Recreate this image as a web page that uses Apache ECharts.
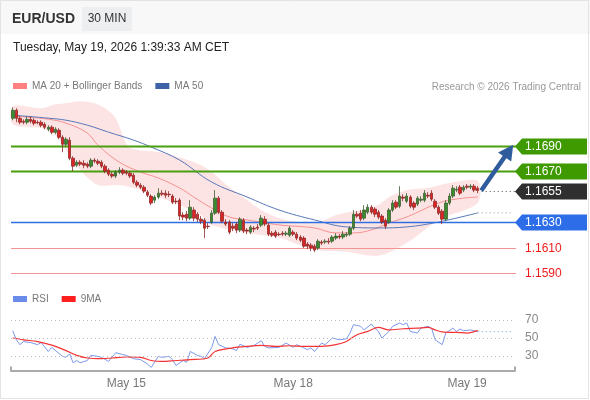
<!DOCTYPE html>
<html>
<head>
<meta charset="utf-8">
<script src="https://cdn.jsdelivr.net/npm/echarts@6.0.0/dist/echarts.min.js"></script>
<style>
  html, body { margin: 0; padding: 0; background: #fff; }
  #chart { width: 590px; height: 400px; }
</style>
</head>
<body>
<div id="chart"></div>
<script>
// 30 min slots, index 0 = May 14 08:00
const slotCount = 142;
const lastIndex = 131;
const dayTicks = [32, 79, 128];
const dayNames = ['May 15', 'May 18', 'May 19'];

// [open, close, low, high]
const candles = [
  [1.17117, 1.17180, 1.17101, 1.17203], [1.17180, 1.17117, 1.17086, 1.17196], [1.17117, 1.17086, 1.17070, 1.17133],
  [1.17094, 1.17086, 1.17070, 1.17109], [1.17086, 1.17109, 1.17070, 1.17133], [1.17109, 1.17094, 1.17078, 1.17133],
  [1.17101, 1.17078, 1.17062, 1.17117], [1.17086, 1.17082, 1.17070, 1.17101], [1.17086, 1.17062, 1.17047, 1.17101],
  [1.17070, 1.17047, 1.17031, 1.17086], [1.17031, 1.17047, 1.17015, 1.17062], [1.17047, 1.17007, 1.16992, 1.17062],
  [1.17007, 1.17031, 1.16992, 1.17047], [1.17023, 1.16968, 1.16953, 1.17039], [1.16968, 1.16913, 1.16851, 1.16984],
  [1.16913, 1.16953, 1.16898, 1.16968], [1.16945, 1.16804, 1.16788, 1.16968], [1.16804, 1.16741, 1.16702, 1.16819],
  [1.16749, 1.16772, 1.16733, 1.16788], [1.16772, 1.16757, 1.16741, 1.16788], [1.16764, 1.16749, 1.16725, 1.16788],
  [1.16757, 1.16741, 1.16725, 1.16772], [1.16741, 1.16788, 1.16725, 1.16804], [1.16788, 1.16780, 1.16764, 1.16804],
  [1.16780, 1.16764, 1.16749, 1.16796], [1.16772, 1.16741, 1.16725, 1.16788], [1.16741, 1.16702, 1.16686, 1.16757],
  [1.16710, 1.16678, 1.16663, 1.16725], [1.16678, 1.16663, 1.16647, 1.16694], [1.16663, 1.16694, 1.16647, 1.16710],
  [1.16694, 1.16710, 1.16678, 1.16733], [1.16710, 1.16686, 1.16670, 1.16725], [1.16694, 1.16686, 1.16670, 1.16710],
  [1.16686, 1.16663, 1.16647, 1.16702], [1.16670, 1.16615, 1.16600, 1.16686], [1.16615, 1.16592, 1.16576, 1.16631],
  [1.16592, 1.16576, 1.16560, 1.16608], [1.16576, 1.16545, 1.16529, 1.16592], [1.16537, 1.16513, 1.16498, 1.16553],
  [1.16506, 1.16451, 1.16435, 1.16521], [1.16474, 1.16498, 1.16451, 1.16513], [1.16498, 1.16529, 1.16482, 1.16568],
  [1.16529, 1.16521, 1.16506, 1.16553], [1.16529, 1.16513, 1.16490, 1.16553], [1.16521, 1.16517, 1.16498, 1.16545],
  [1.16506, 1.16458, 1.16443, 1.16521], [1.16466, 1.16462, 1.16443, 1.16490], [1.16474, 1.16349, 1.16317, 1.16490],
  [1.16357, 1.16341, 1.16317, 1.16380], [1.16364, 1.16333, 1.16309, 1.16388], [1.16333, 1.16419, 1.16317, 1.16474],
  [1.16396, 1.16333, 1.16309, 1.16419], [1.16364, 1.16325, 1.16302, 1.16380], [1.16325, 1.16309, 1.16286, 1.16349],
  [1.16317, 1.16254, 1.16176, 1.16333], [1.16270, 1.16266, 1.16247, 1.16294], [1.16302, 1.16372, 1.16286, 1.16396],
  [1.16372, 1.16490, 1.16357, 1.16553], [1.16490, 1.16380, 1.16364, 1.16506], [1.16380, 1.16309, 1.16294, 1.16396],
  [1.16302, 1.16286, 1.16270, 1.16325], [1.16302, 1.16223, 1.16207, 1.16317], [1.16270, 1.16254, 1.16231, 1.16294],
  [1.16286, 1.16239, 1.16215, 1.16302], [1.16239, 1.16325, 1.16223, 1.16341], [1.16317, 1.16231, 1.16215, 1.16333],
  [1.16239, 1.16231, 1.16207, 1.16254], [1.16223, 1.16262, 1.16207, 1.16278], [1.16254, 1.16247, 1.16223, 1.16270],
  [1.16262, 1.16254, 1.16239, 1.16286], [1.16278, 1.16333, 1.16262, 1.16357], [1.16325, 1.16286, 1.16270, 1.16349],
  [1.16278, 1.16207, 1.16192, 1.16294], [1.16215, 1.16199, 1.16184, 1.16231], [1.16223, 1.16192, 1.16176, 1.16239],
  [1.16207, 1.16203, 1.16192, 1.16223], [1.16215, 1.16207, 1.16192, 1.16231], [1.16207, 1.16215, 1.16192, 1.16231],
  [1.16199, 1.16254, 1.16184, 1.16270], [1.16223, 1.16207, 1.16192, 1.16239], [1.16207, 1.16176, 1.16160, 1.16223],
  [1.16184, 1.16160, 1.16145, 1.16199], [1.16176, 1.16113, 1.16098, 1.16192], [1.16129, 1.16113, 1.16090, 1.16145],
  [1.16121, 1.16098, 1.16074, 1.16137], [1.16113, 1.16082, 1.16066, 1.16129], [1.16098, 1.16152, 1.16082, 1.16168],
  [1.16145, 1.16137, 1.16121, 1.16160], [1.16145, 1.16152, 1.16129, 1.16168], [1.16152, 1.16145, 1.16129, 1.16176],
  [1.16152, 1.16184, 1.16137, 1.16199], [1.16176, 1.16192, 1.16160, 1.16215], [1.16192, 1.16184, 1.16168, 1.16207],
  [1.16184, 1.16207, 1.16168, 1.16231], [1.16199, 1.16207, 1.16184, 1.16223], [1.16207, 1.16254, 1.16192, 1.16270],
  [1.16254, 1.16364, 1.16239, 1.16396], [1.16364, 1.16349, 1.16333, 1.16388], [1.16372, 1.16325, 1.16309, 1.16396],
  [1.16333, 1.16396, 1.16317, 1.16435], [1.16380, 1.16419, 1.16364, 1.16443], [1.16419, 1.16380, 1.16364, 1.16435],
  [1.16404, 1.16364, 1.16341, 1.16419], [1.16380, 1.16341, 1.16325, 1.16396], [1.16349, 1.16302, 1.16286, 1.16364],
  [1.16317, 1.16270, 1.16247, 1.16333], [1.16302, 1.16396, 1.16286, 1.16411], [1.16396, 1.16451, 1.16380, 1.16474],
  [1.16458, 1.16419, 1.16404, 1.16474], [1.16427, 1.16506, 1.16411, 1.16584], [1.16498, 1.16490, 1.16466, 1.16521],
  [1.16466, 1.16506, 1.16451, 1.16529], [1.16498, 1.16427, 1.16411, 1.16513], [1.16451, 1.16419, 1.16396, 1.16466],
  [1.16443, 1.16490, 1.16427, 1.16506], [1.16474, 1.16482, 1.16458, 1.16506], [1.16474, 1.16529, 1.16458, 1.16553],
  [1.16513, 1.16506, 1.16490, 1.16537], [1.16529, 1.16482, 1.16466, 1.16553], [1.16466, 1.16419, 1.16404, 1.16482],
  [1.16419, 1.16372, 1.16357, 1.16435], [1.16388, 1.16325, 1.16286, 1.16404], [1.16325, 1.16451, 1.16309, 1.16474],
  [1.16451, 1.16506, 1.16435, 1.16529], [1.16506, 1.16568, 1.16490, 1.16592], [1.16553, 1.16560, 1.16537, 1.16584],
  [1.16576, 1.16529, 1.16513, 1.16592], [1.16553, 1.16576, 1.16537, 1.16592], [1.16584, 1.16576, 1.16560, 1.16600],
  [1.16576, 1.16584, 1.16560, 1.16600], [1.16584, 1.16553, 1.16537, 1.16600], [1.16568, 1.16550, 1.16529, 1.16584]
];

// [slot, price]
const ma20 = [[0, 1.17134], [4, 1.17126], [10, 1.17110], [15, 1.17079], [21, 1.17001], [24, 1.16906], [30, 1.16773],
  [36, 1.16695], [41, 1.16648], [47, 1.16570], [51, 1.16499], [56, 1.16413], [61, 1.16342], [66, 1.16319],
  [75, 1.16280], [85, 1.16256], [91, 1.16217], [96, 1.16217], [101, 1.16240], [106, 1.16295], [111, 1.16342],
  [120, 1.16452], [125, 1.16483], [131, 1.16499]];
const ma50 = [[0, 1.17142], [10, 1.17118], [15, 1.17102], [21, 1.17063], [27, 1.17008], [34, 1.16946], [39, 1.16891],
  [47, 1.16789], [56, 1.16617], [66, 1.16499], [75, 1.16397], [85, 1.16319], [94, 1.16264], [103, 1.16256],
  [111, 1.16264], [120, 1.16303], [131, 1.16374]];
const bandUpper = [[0, 1.17212], [8, 1.17196], [12, 1.17228], [15, 1.17236], [19, 1.17251], [23, 1.17236], [26, 1.17196],
  [29, 1.17118], [31, 1.16985], [33, 1.16883], [41, 1.16852], [47, 1.16812], [53, 1.16750], [56, 1.16695],
  [61, 1.16577], [66, 1.16475], [70, 1.16397], [75, 1.16334], [80, 1.16303], [86, 1.16303], [92, 1.16365],
  [98, 1.16397], [103, 1.16436], [106, 1.16499], [111, 1.16554], [117, 1.16570], [123, 1.16609], [131, 1.16624]];
const bandLower = [[0, 1.17071], [8, 1.17040], [12, 1.16985], [15, 1.16867], [19, 1.16711], [24, 1.16593], [30, 1.16593],
  [36, 1.16554], [41, 1.16499], [47, 1.16436], [53, 1.16357], [56, 1.16279], [66, 1.16217], [75, 1.16178],
  [85, 1.16084], [94, 1.16068], [103, 1.16037], [111, 1.16138], [120, 1.16319], [131, 1.16452]];

const rsi = [[0, 58], [1, 48], [2, 42.6], [3, 46], [5, 45], [7, 42.6], [8, 45], [10, 35], [11, 39.6], [14, 29.6],
  [15, 28.5], [16, 32.5], [17, 22.5], [18, 25], [19, 22.5], [21, 25], [22, 30.7], [24, 29.6], [25, 28.5], [27, 24],
  [29, 33.7], [31, 31.5], [32, 30.7], [34, 27], [36, 26], [38, 21], [39, 17.3], [41, 29.6], [42, 28.5], [44, 29.6],
  [45, 26], [46, 19.6], [48, 25], [49, 23], [50, 35], [52, 30.7], [53, 29.6], [54, 27], [56, 39], [57, 51.8],
  [58, 42.6], [60, 39], [62, 38], [63, 36], [64, 43], [66, 39.6], [68, 41.8], [70, 47], [71, 40.7], [72, 39],
  [75, 39.6], [77, 44.4], [79, 39.6], [80, 42.6], [82, 39], [83, 37], [84, 39], [85, 35], [87, 44.4], [88, 42.6],
  [90, 50], [92, 48], [94, 49], [95, 55.5], [96, 64.8], [98, 63], [99, 59], [101, 65.5], [102, 61], [103, 57.3],
  [104, 50], [106, 57.3], [107, 63], [109, 66.7], [110, 64.8], [111, 66.7], [112, 57.3], [114, 55.5], [115, 61],
  [117, 63], [118, 61], [119, 48], [121, 42.6], [122, 55.5], [124, 61], [125, 57.3], [126, 60], [127, 58],
  [129, 59], [131, 57]];
const rsiMa = [[0, 50], [3, 48], [7, 46], [10, 43], [12, 40.7], [15, 36], [18, 30.7], [21, 27.8], [25, 27], [28, 27.8],
  [32, 28.9], [36, 28.5], [39, 25], [42, 24], [46, 25], [50, 26], [55, 27.8], [57, 35], [62, 39], [66, 40.7],
  [70, 41.8], [74, 40.7], [78, 41.4], [82, 40.7], [87, 40.7], [91, 42.6], [94, 46.2], [97, 53.7], [100, 57.3],
  [103, 61.8], [106, 59], [110, 60.3], [114, 61], [117, 61.8], [119, 59], [121, 56.7], [125, 56.2], [128, 55.5],
  [131, 58.4]];
const rsiLevels = [70, 50, 30];

const levelValues = [1.1690, 1.1670, 1.1655, 1.1630, 1.1610, 1.1590];
const levelKinds = ['resistance', 'resistance', 'last', 'pivot', 'support', 'support'];
const arrowFrom = [132, 1.1655];
const arrowTo = [141, 1.1691];

const categories = [];
for (let i = 0; i < slotCount; i++) categories.push(String(i));

const levelLook = {
  resistance: { line: '#4b9e0e', width: 2, tag: '#3f9a00', text: '#fff' },
  last: { line: '#555', width: 1, tag: '#2f2f2f', text: '#fff' },
  pivot: { line: '#2f6fe4', width: 1.5, tag: '#2d6ee8', text: '#fff' },
  support: { line: '#f39494', width: 1, tag: null, text: '#ee1c1c' },
};

function renderLevel(params, api) {
  const value = levelValues[params.dataIndex];
  const look = levelLook[levelKinds[params.dataIndex]];
  const cs = params.coordSys;
  const right = cs.x + cs.width;
  const y = Math.round(api.coord([0, value])[1]) + 0.5;
  const children = [];
  if (levelKinds[params.dataIndex] === 'last') {
    const x0 = api.coord([lastIndex, value])[0] + 4;
    children.push({ type: 'line', shape: { x1: x0, y1: y, x2: right, y2: y },
      style: { stroke: look.line, lineWidth: 1, lineDash: [1, 3] } });
  } else {
    children.push({ type: 'line', shape: { x1: cs.x, y1: y, x2: right + 1, y2: y },
      style: { stroke: look.line, lineWidth: look.width } });
  }
  if (look.tag) {
    children.push({ type: 'polygon',
      shape: { points: [[right, y], [right + 7, y - 8], [right + 72, y - 8], [right + 72, y + 8], [right + 7, y + 8]] },
      style: { fill: look.tag } });
  }
  children.push({ type: 'text', style: { text: value.toFixed(4), x: right + 10, y: y, fill: look.text,
    font: '12px Arial', verticalAlign: 'middle', textVerticalAlign: 'middle' } });
  return { type: 'group', children: children };
}

function renderBand(params, api) {
  const pts = bandUpper.map(p => api.coord(p));
  for (let k = bandLower.length - 1; k >= 0; k--) pts.push(api.coord(bandLower[k]));
  return { type: 'polygon', shape: { points: pts, smooth: 0.3 }, style: { fill: 'rgba(245,120,120,0.2)' } };
}

function renderArrow(params, api) {
  const p0 = api.coord(arrowFrom);
  const p1 = api.coord(arrowTo);
  const dx = p1[0] - p0[0], dy = p1[1] - p0[1];
  const len = Math.sqrt(dx * dx + dy * dy);
  const ux = dx / len, uy = dy / len;
  const head = 15, half = 8;
  const bx = p1[0] - ux * head, by = p1[1] - uy * head;
  return { type: 'group', children: [
    { type: 'line', shape: { x1: p0[0], y1: p0[1], x2: bx + ux * 2, y2: by + uy * 2 }, style: { stroke: '#2f5c9c', lineWidth: 4.5 } },
    { type: 'polygon', shape: { points: [[p1[0], p1[1]], [bx - uy * half, by + ux * half], [bx + uy * half, by - ux * half]] },
      style: { fill: '#2f5c9c' } },
  ] };
}

const chart = echarts.init(document.getElementById('chart'));
chart.setOption({
  animation: false,
  textStyle: { fontFamily: 'Arial, "Liberation Sans", sans-serif' },
  graphic: [
    { type: 'rect', shape: { x: 0, y: 0, width: 590, height: 34 }, style: { fill: '#f8f8f8' }, silent: true },
    { type: 'rect', shape: { x: 0.5, y: 0.5, width: 588, height: 398 }, style: { fill: 'none', stroke: '#e3e3e3', lineWidth: 1 }, silent: true },
    { type: 'text', x: 12, y: 19, style: { text: 'EUR/USD', font: 'bold 14px Arial', fill: '#333', verticalAlign: 'middle', textVerticalAlign: 'middle' } },
    { type: 'rect', shape: { x: 82, y: 7, width: 50, height: 24 }, style: { fill: '#eceef0' } },
    { type: 'text', x: 107, y: 19, style: { text: '30 MIN', font: '12px Arial', fill: '#333', align: 'center', textAlign: 'center', verticalAlign: 'middle', textVerticalAlign: 'middle' } },
    { type: 'text', x: 13, y: 48, style: { text: 'Tuesday, May 19, 2026 1:39:33 AM CET', font: '12px Arial', fill: '#222', verticalAlign: 'middle', textVerticalAlign: 'middle' } },
    { type: 'text', x: 581, y: 87, style: { text: 'Research \u00a9 2026 Trading Central', font: '10px Arial', fill: '#999', align: 'right', textAlign: 'right', verticalAlign: 'middle', textVerticalAlign: 'middle' } },
  ],
  legend: [
    { left: 13, top: 81, padding: 0, itemWidth: 14, itemHeight: 6, itemGap: 13, icon: 'rect', selectedMode: false,
      textStyle: { color: '#777', fontSize: 10 }, data: ['MA 20 + Bollinger Bands', 'MA 50'] },
    { left: 13, top: 294, padding: 0, itemWidth: 14, itemHeight: 6, itemGap: 13, icon: 'rect', selectedMode: false,
      textStyle: { color: '#777', fontSize: 10 }, data: ['RSI', '9MA'] },
  ],
  grid: [
    { left: 11, width: 504, top: 95, height: 191 },
    { left: 11, width: 504, top: 302, height: 68.4 },
  ],
  xAxis: [
    { type: 'category', gridIndex: 0, data: categories, boundaryGap: true, show: false },
    { type: 'category', gridIndex: 1, data: categories, boundaryGap: true,
      axisLine: { lineStyle: { color: '#aaa', width: 2 } },
      axisTick: { show: true, inside: true, length: 4, interval: (i) => i === 0, lineStyle: { color: '#aaa', width: 2 } },
      axisLabel: { interval: (i) => dayTicks.indexOf(i) >= 0, formatter: (v, i) => dayNames[dayTicks.indexOf(i)] || '',
        color: '#777', fontSize: 12, margin: 7 } },
  ],
  yAxis: [
    { type: 'value', gridIndex: 0, min: 1.1580, max: 1.1730, show: false, splitLine: { show: false } },
    { type: 'value', gridIndex: 1, min: 14, max: 90, show: false, splitLine: { show: false } },
  ],
  series: [
    { type: 'custom', name: 'band', xAxisIndex: 0, yAxisIndex: 0, renderItem: renderBand, data: [[0, 1.165]], z: 1, silent: true, clip: false },
    { type: 'line', name: 'MA 20 + Bollinger Bands', xAxisIndex: 0, yAxisIndex: 0, data: ma20, showSymbol: false, smooth: 0.4,
      color: '#ff8080', lineStyle: { color: '#f59090', width: 1 }, z: 2 },
    { type: 'line', name: 'MA 50', xAxisIndex: 0, yAxisIndex: 0, data: ma50, showSymbol: false, smooth: 0.4,
      color: '#3d62a8', lineStyle: { color: '#5677b8', width: 1 }, z: 2 },
    { type: 'line', name: 'ma50ext', xAxisIndex: 0, yAxisIndex: 0, data: [[lastIndex, ma50[ma50.length - 1][1]], [slotCount - 1, ma50[ma50.length - 1][1]]],
      showSymbol: false, lineStyle: { color: '#999', width: 1, type: [1, 3] }, z: 2 },
    { type: 'custom', name: 'levels', xAxisIndex: 0, yAxisIndex: 0, renderItem: renderLevel,
      data: levelValues.map(v => [0, v]), z: 3, silent: true, clip: false },
    { type: 'candlestick', name: 'EUR/USD', xAxisIndex: 0, yAxisIndex: 0, data: candles, barWidth: 3, z: 4,
      itemStyle: { color: '#3a8c2c', color0: '#de2424', borderColor: '#3d5f33', borderColor0: '#8e2a2a', borderWidth: 0.8 } },
    { type: 'custom', name: 'arrow', xAxisIndex: 0, yAxisIndex: 0, renderItem: renderArrow, data: [[0, 1.165]], z: 5, silent: true, clip: false },
    { type: 'line', name: 'RSI', xAxisIndex: 1, yAxisIndex: 1, data: rsi, showSymbol: false,
      color: '#6a8ce8', lineStyle: { color: '#7b98ea', width: 1 }, z: 3,
      markLine: { silent: true, symbol: 'none', animation: false,
        lineStyle: { color: '#bbb', type: [1, 3], width: 1 },
        label: { position: 'end', distance: 10, color: '#888', fontSize: 12, padding: [4, 0, 0, 0], formatter: (p) => String(p.value) },
        data: rsiLevels.map(v => ({ yAxis: v })) } },
    { type: 'line', name: '9MA', xAxisIndex: 1, yAxisIndex: 1, data: rsiMa, showSymbol: false, smooth: 0.3,
      color: '#ff1f1f', lineStyle: { color: '#f43434', width: 1.2 }, z: 4 },
    { type: 'line', name: 'rsiext', xAxisIndex: 1, yAxisIndex: 1, data: [[lastIndex, rsi[rsi.length - 1][1]], [slotCount - 1, rsi[rsi.length - 1][1]]],
      showSymbol: false, lineStyle: { color: '#7b98ea', width: 1, type: [1, 3] }, z: 3 },
  ],
});
</script>
</body>
</html>
